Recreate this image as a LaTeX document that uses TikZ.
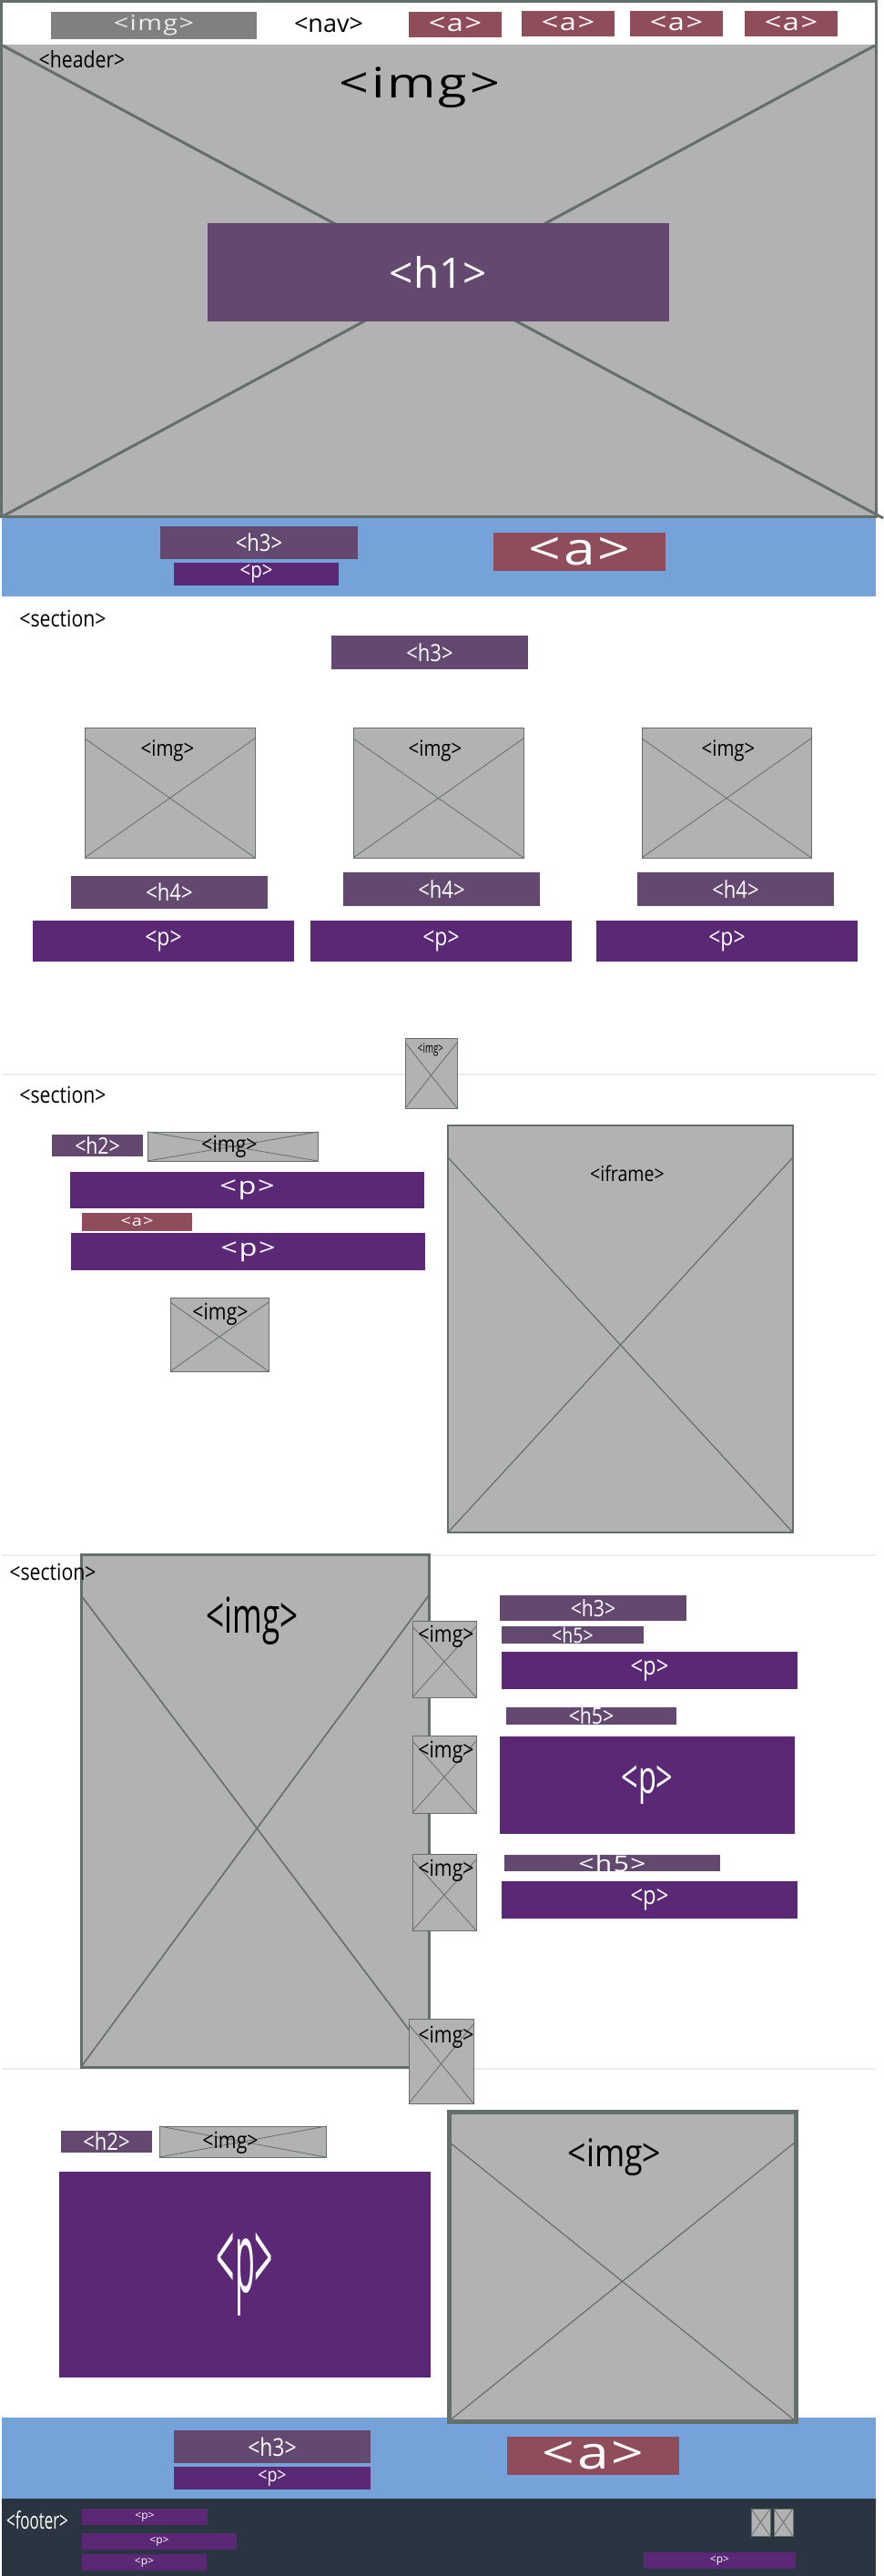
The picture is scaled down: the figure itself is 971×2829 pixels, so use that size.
\documentclass[tikz,border=0pt]{standalone}
\usepackage{fontspec}
\setmainfont{Open Sans}
\newfontfamily\widefont[FakeStretch=1.25,LetterSpace=6]{Open Sans}
\newfontfamily\narrowfont[FakeStretch=0.85]{Open Sans}
\newfontfamily\condfont[FakeStretch=0.65]{Open Sans}
\newfontfamily\slimfont[FakeStretch=0.33]{Open Sans}
\newcommand{\fsz}[1]{\fontsize{#1}{#1}\selectfont}

\definecolor{imggray}{HTML}{B2B2B2}
\definecolor{frame}{HTML}{646E6A}
\definecolor{navgray}{HTML}{808080}
\definecolor{linkred}{HTML}{8F4C5A}
\definecolor{headpurple}{HTML}{634870}
\definecolor{parapurple}{HTML}{5B2876}
\definecolor{bandblue}{HTML}{74A2D9}
\definecolor{footdark}{HTML}{2B3441}
\definecolor{sepgray}{HTML}{EDEDED}

\begin{document}
\begin{tikzpicture}[
            x = 1pt, y = -1pt, % one unit is one pixel of the page
            every node/.style = {inner sep=0pt, outer sep=0pt}
        ]

        \tikzstyle{box}=[rectangle, text=white]
        \tikzstyle{heading}=[box, fill=headpurple]
        \tikzstyle{para}=[box, fill=parapurple]
        \tikzstyle{link}=[box, fill=linkred]
        \tikzstyle{band}=[rectangle, fill=bandblue]
        \tikzstyle{imgbox}=[rectangle, fill=imggray, draw=frame, line width=0.8pt]
        \tikzstyle{cross}=[draw=frame, line width=0.8pt]
        \tikzstyle{tag}=[text=black, font=\narrowfont\fsz{25}]

        \fill[white] (0,0) rectangle (971,2829);
        \useasboundingbox (0,0) rectangle (971,2829);

        % section separators
        \coordinate (s1l) at (2,1180);  \coordinate (s1r) at (962,1180);
        \coordinate (s2l) at (2,1708);  \coordinate (s2r) at (962,1708);
        \coordinate (s3l) at (2,2272);  \coordinate (s3r) at (962,2272);
        \draw[sepgray, line width=1.5pt] (s1l) -- (s1r);
        \draw[sepgray, line width=1.5pt] (s2l) -- (s2r);
        \draw[sepgray, line width=1.5pt] (s3l) -- (s3r);

        % header with nav
        \node[imgbox, line width=3pt, minimum width=960.5pt, minimum height=565.5pt] (hdr) at (481.75,284.25) {};
        \node[fill=white, minimum width=957.5pt, minimum height=46.5pt] (navbar) at (481.75,26.25) {};
        \coordinate (htl) at (3,50);
        \coordinate (htr) at (961,50);
        \coordinate (hbr) at (970,569);
        \coordinate (hbl) at (3,567);
        \draw[cross, line width=3pt] (htl) -- (hbr);
        \draw[cross, line width=3pt] (htr) -- (hbl);

        \node[box, fill=navgray, text=white!85!gray, minimum width=226pt, minimum height=30pt, font=\widefont\fsz{23}] (logo) at (169,28) {<img>};
        \node[text=black, font=\fsz{27}] (lnav) at (361,27) {<nav>};
        \node[link, minimum width=102pt, minimum height=28pt, font=\widefont\fsz{26}] (a1) at (500,27) {<a>};
        \node[link, minimum width=102pt, minimum height=28pt, font=\widefont\fsz{26}] (a2) at (624,26) {<a>};
        \node[link, minimum width=102pt, minimum height=28pt, font=\widefont\fsz{26}] (a3) at (743,26) {<a>};
        \node[link, minimum width=102pt, minimum height=28pt, font=\widefont\fsz{26}] (a4) at (869,26) {<a>};

        \node[tag] (lhdr) at (90,65) {<header>};
        \node[text=black, font=\widefont\fsz{46}] (lhimg) at (461,96) {<img>};
        \node[heading, minimum width=507pt, minimum height=108pt, font=\fsz{46}] (h1) at (481.5,299) {<h1>};

        % banner under the header
        \node[band, minimum width=960pt, minimum height=86.5pt] (band1) at (482,611.75) {};
        \node[heading, minimum width=217pt, minimum height=36.5pt, font=\narrowfont\fsz{26}] (bh3) at (284.5,596) {<h3>};
        \node[para, minimum width=181pt, minimum height=25pt, font=\narrowfont\fsz{24}] (bp) at (281.5,630.5) {<p>};
        \node[link, minimum width=189pt, minimum height=42pt, font=\widefont\fsz{50}] (ba) at (636.5,606) {<a>};

        % section one: three columns
        \node[tag] (lsec1) at (69,679) {<section>};
        \node[heading, minimum width=216pt, minimum height=37pt, font=\narrowfont\fsz{26}] (c0h3) at (472,716.5) {<h3>};

        \node[imgbox, minimum width=187pt, minimum height=143pt] (c1img) at (186.5,870.5) {};
        \node[imgbox, minimum width=187pt, minimum height=143pt] (c2img) at (481.5,870.5) {};
        \node[imgbox, minimum width=186pt, minimum height=143pt] (c3img) at (798,870.5) {};
        \draw[cross] ([yshift=-12pt]c1img.north west) -- (c1img.south east);
        \draw[cross] ([yshift=-12pt]c1img.north east) -- (c1img.south west);
        \draw[cross] ([yshift=-12pt]c2img.north west) -- (c2img.south east);
        \draw[cross] ([yshift=-12pt]c2img.north east) -- (c2img.south west);
        \draw[cross] ([yshift=-12pt]c3img.north west) -- (c3img.south east);
        \draw[cross] ([yshift=-12pt]c3img.north east) -- (c3img.south west);
        \node[tag, font=\narrowfont\fsz{24}] (l1img) at (184,825) {<img>};
        \node[tag, font=\narrowfont\fsz{24}] (l2img) at (478,825) {<img>};
        \node[tag, font=\narrowfont\fsz{24}] (l3img) at (800,825) {<img>};

        \node[heading, minimum width=216pt, minimum height=36pt, font=\narrowfont\fsz{26}] (c1h4) at (186,980) {<h4>};
        \node[heading, minimum width=216pt, minimum height=37pt, font=\narrowfont\fsz{26}] (c2h4) at (485,976.5) {<h4>};
        \node[heading, minimum width=216pt, minimum height=37pt, font=\narrowfont\fsz{26}] (c3h4) at (808,976.5) {<h4>};
        \node[para, minimum width=287pt, minimum height=45pt, font=\narrowfont\fsz{27}] (c1p) at (179.5,1033.5) {<p>};
        \node[para, minimum width=287pt, minimum height=45pt, font=\narrowfont\fsz{27}] (c2p) at (484.5,1033.5) {<p>};
        \node[para, minimum width=287pt, minimum height=45pt, font=\narrowfont\fsz{27}] (c3p) at (798.5,1033.5) {<p>};

        \node[imgbox, minimum width=57pt, minimum height=77pt] (tinyimg) at (473.5,1178.5) {};
        \draw[cross] ([yshift=-5pt]tinyimg.north west) -- (tinyimg.south east);
        \draw[cross] ([yshift=-5pt]tinyimg.north east) -- (tinyimg.south west);
        \node[tag, font=\condfont\fsz{15}] (ltiny) at (473,1153) {<img>};

        % section two: text and iframe
        \node[tag] (lsec2) at (69,1202) {<section>};
        \node[heading, minimum width=100pt, minimum height=24pt, font=\narrowfont\fsz{25}] (s2h2) at (107,1258) {<h2>};
        \node[imgbox, minimum width=187pt, minimum height=32pt] (s2wide) at (255.5,1259) {};
        \draw[cross] (s2wide.north west) -- (s2wide.south east);
        \draw[cross] (s2wide.north east) -- (s2wide.south west);
        \node[tag] (ls2wide) at (252,1259) {<img>};
        \node[para, minimum width=389pt, minimum height=40pt, font=\widefont\fsz{26}] (s2p1) at (271.5,1307) {<p>};
        \node[link, minimum width=121pt, minimum height=20pt, font=\widefont\fsz{16}] (s2a) at (150.5,1342) {<a>};
        \node[para, minimum width=389pt, minimum height=41pt, font=\widefont\fsz{26}] (s2p2) at (272.5,1374.5) {<p>};

        \node[imgbox, minimum width=108pt, minimum height=81pt] (s2img) at (241,1465.5) {};
        \draw[cross] ([yshift=-5pt]s2img.north west) -- (s2img.south east);
        \draw[cross] ([yshift=-5pt]s2img.north east) -- (s2img.south west);
        \node[tag] (ls2img) at (242,1443) {<img>};

        \node[imgbox, line width=2pt, minimum width=379pt, minimum height=447pt] (iframe) at (681.5,1459.5) {};
        \draw[cross, line width=1.2pt] ([yshift=-35pt]iframe.north west) -- (iframe.south east);
        \draw[cross, line width=1.2pt] ([yshift=-35pt]iframe.north east) -- (iframe.south west);
        \node[tag, font=\narrowfont\fsz{23}] (liframe) at (689,1289) {<iframe>};

        % section three: gallery
        \node[imgbox, line width=3pt, minimum width=382pt, minimum height=563pt] (s3big) at (280,1988.5) {};
        \draw[cross, line width=1.6pt] ([yshift=-45pt]s3big.north west) -- ([yshift=12pt]s3big.south east);
        \draw[cross, line width=1.6pt] ([yshift=-45pt]s3big.north east) -- (s3big.south west);
        \node[tag, font=\condfont\fsz{54}] (ls3big) at (277,1780) {<img>};
        \node[tag] (lsec3) at (58,1726) {<section>};

        \node[imgbox, minimum width=70pt, minimum height=84pt] (g1) at (488,1822) {};
        \node[imgbox, minimum width=70pt, minimum height=85pt] (g2) at (488,1948.5) {};
        \node[imgbox, minimum width=70pt, minimum height=84pt] (g3) at (488,2078) {};
        \node[imgbox, minimum width=71pt, minimum height=93pt] (g4) at (484.5,2263.5) {};
        \draw[cross] ([yshift=-6pt]g1.north west) -- (g1.south east);
        \draw[cross] ([yshift=-6pt]g1.north east) -- (g1.south west);
        \draw[cross] ([yshift=-6pt]g2.north west) -- (g2.south east);
        \draw[cross] ([yshift=-6pt]g2.north east) -- (g2.south west);
        \draw[cross] ([yshift=-6pt]g3.north west) -- (g3.south east);
        \draw[cross] ([yshift=-6pt]g3.north east) -- (g3.south west);
        \draw[cross] ([yshift=-6pt]g4.north west) -- (g4.south east);
        \draw[cross] ([yshift=-6pt]g4.north east) -- (g4.south west);
        \node[tag] (lg1) at (490,1797) {<img>};
        \node[tag] (lg2) at (490,1924) {<img>};
        \node[tag] (lg3) at (490,2054) {<img>};
        \node[tag] (lg4) at (490,2237) {<img>};

        \node[heading, minimum width=205pt, minimum height=28pt, font=\narrowfont\fsz{25}] (s3h3) at (651.5,1766) {<h3>};
        \node[heading, minimum width=156pt, minimum height=19pt, font=\narrowfont\fsz{23}] (s3h5a) at (629,1795.5) {<h5>};
        \node[para, minimum width=325pt, minimum height=41pt, font=\narrowfont\fsz{28}] (s3p1) at (713.5,1834.5) {<p>};
        \node[heading, minimum width=187pt, minimum height=19pt, font=\narrowfont\fsz{25}] (s3h5b) at (649.5,1884.5) {<h5>};
        \node[para, minimum width=324pt, minimum height=107pt, font=\condfont\fsz{50}] (s3p2) at (711,1960.5) {<p>};
        \node[heading, minimum width=237pt, minimum height=18pt, font=\widefont\fsz{24}] (s3h5c) at (672.5,2046) {<h5>};
        \node[para, minimum width=325pt, minimum height=41pt, font=\narrowfont\fsz{28}] (s3p3) at (713.5,2086.5) {<p>};

        % section four: text and image
        \node[heading, minimum width=100pt, minimum height=24pt, font=\narrowfont\fsz{26}] (s4h2) at (117,2352) {<h2>};
        \node[imgbox, minimum width=183pt, minimum height=34pt] (s4wide) at (266.5,2352) {};
        \draw[cross] (s4wide.north west) -- (s4wide.south east);
        \draw[cross] (s4wide.north east) -- (s4wide.south west);
        \node[tag] (ls4wide) at (253,2353) {<img>};
        \node[para, minimum width=408pt, minimum height=226pt, font=\slimfont\fsz{108}] (s4p) at (269,2498) {<p>};

        % banner above the footer
        \node[band, minimum width=960pt, minimum height=89pt] (band2) at (482,2699.5) {};
        \node[imgbox, line width=5pt, minimum width=381pt, minimum height=340pt] (s4big) at (683.5,2489) {};
        \draw[cross, line width=1.2pt] ([yshift=-33pt]s4big.north west) -- (s4big.south east);
        \draw[cross, line width=1.2pt] ([yshift=-33pt]s4big.north east) -- (s4big.south west);
        \node[tag, font=\narrowfont\fsz{42}] (ls4big) at (675,2369) {<img>};

        \node[heading, minimum width=216pt, minimum height=36pt, font=\narrowfont\fsz{27}] (fh3) at (299,2687) {<h3>};
        \node[para, minimum width=216pt, minimum height=25pt, font=\narrowfont\fsz{21}] (fp) at (299,2721.5) {<p>};
        \node[link, minimum width=189pt, minimum height=42pt, font=\widefont\fsz{50}] (fa) at (651.5,2697) {<a>};

        % footer
        \node[rectangle, fill=footdark, minimum width=960pt, minimum height=85pt] (footer) at (482,2786.5) {};
        \node[text=white, font=\condfont\fsz{26}] (lfoot) at (41,2768) {<footer>};
        \node[para, minimum width=138pt, minimum height=18pt, font=\fsz{12}] (fp1) at (159,2764) {<p>};
        \node[para, minimum width=170pt, minimum height=18pt, font=\fsz{12}] (fp2) at (175,2791) {<p>};
        \node[para, minimum width=137pt, minimum height=18pt, font=\fsz{12}] (fp3) at (158.5,2814) {<p>};
        \node[para, minimum width=167pt, minimum height=18pt, font=\fsz{12}] (fp4) at (790.5,2812) {<p>};
        \node[imgbox, minimum width=21pt, minimum height=30pt] (ic1) at (835.5,2770) {};
        \node[imgbox, minimum width=21pt, minimum height=30pt] (ic2) at (860.5,2770) {};
        \draw[cross] (ic1.north west) -- (ic1.south east);
        \draw[cross] (ic1.north east) -- (ic1.south west);
        \draw[cross] (ic2.north west) -- (ic2.south east);
        \draw[cross] (ic2.north east) -- (ic2.south west);
    \end{tikzpicture}
\end{document}
